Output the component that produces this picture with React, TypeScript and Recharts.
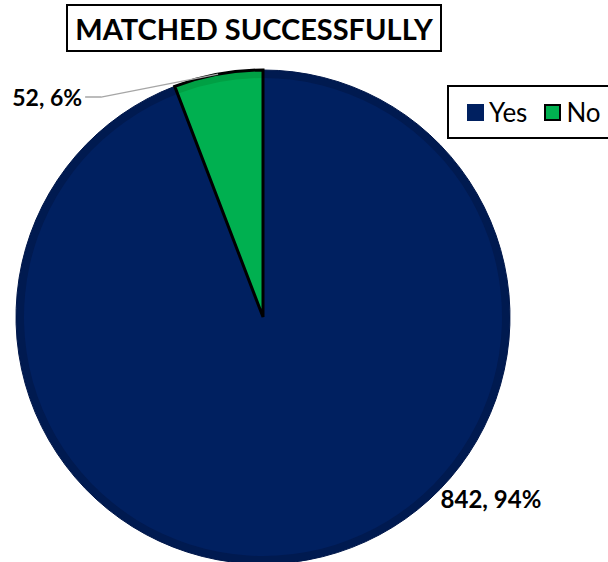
import React from "react";
import { PieChart, Pie, Cell, Legend } from "recharts";

const categories = ["Yes", "No"];
const counts = [842, 52];
const fills = ["#002060", "#00B050"];
const edgeFills = ["#001a50", "#00a044"];

const data = categories.map((name, i) => ({ name, value: counts[i] }));

const FONT = "Lato, 'Open Sans', sans-serif";
const RAD = Math.PI / 180;

const renderLabel = (p: any) => {
  const { cx, cy, midAngle, outerRadius, value, percent, index } = p;
  const text = `${value}, ${Math.round(percent * 100)}%`;
  if (index === 1) {
    const sx = cx + outerRadius * Math.cos(-midAngle * RAD);
    const sy = cy + outerRadius * Math.sin(-midAngle * RAD);
    const mx = sx - 117;
    const my = sy + 23;
    const ex = mx - 16;
    return (
      <g>
        <polyline
          points={`${sx},${sy} ${mx},${my} ${ex},${my}`}
          fill="none"
          stroke="#a6a6a6"
          strokeWidth={1.5}
        />
        <text
          x={ex - 3}
          y={my}
          textAnchor="end"
          dominantBaseline="central"
          fontFamily={FONT}
          fontWeight={700}
          fontSize={23}
          fill="#000"
        >
          {text}
        </text>
      </g>
    );
  }
  const x = cx + outerRadius * 0.923;
  const y = cy + outerRadius * 0.733;
  return (
    <text
      x={x}
      y={y}
      textAnchor="middle"
      dominantBaseline="central"
      fontFamily={FONT}
      fontWeight={700}
      fontSize={24}
      fill="#000"
    >
      {text}
    </text>
  );
};

const renderLegend = () => (
  <div
    style={{
      border: "2px solid #000",
      borderRight: "none",
      height: 54,
      width: 170,
      boxSizing: "border-box",
      display: "flex",
      alignItems: "center",
      paddingLeft: 18,
      fontFamily: FONT,
      fontSize: 26,
      color: "#000",
    }}
  >
    {categories.map((c, i) => (
      <span key={c} style={{ display: "flex", alignItems: "center", marginRight: 17 }}>
        <span
          style={{
            display: "inline-block",
            width: 17,
            height: 17,
            background: fills[i],
            border: i === 1 ? "2px solid #000" : "none",
            boxSizing: "border-box",
            marginRight: 5,
          }}
        />
        {c}
      </span>
    ))}
  </div>
);

export default function App() {
  return (
    <div
      style={{
        position: "absolute",
        left: 0,
        top: 0,
        width: 608,
        height: 562,
        overflow: "hidden",
        background: "#fff",
      }}
    >
      <PieChart width={608} height={562} margin={{ top: 0, right: 0, bottom: 0, left: 0 }}>
        <Pie
          data={data}
          dataKey="value"
          nameKey="name"
          cx={263}
          cy={317}
          outerRadius={247}
          startAngle={90}
          endAngle={-270}
          isAnimationActive={false}
          label={renderLabel}
          labelLine={false}
          stroke="none"
        >
          {data.map((d, i) => (
            <Cell key={d.name} fill={edgeFills[i]} stroke={i === 1 ? "#000" : "#00174a"} strokeWidth={1} />
          ))}
        </Pie>
        <Pie
          data={data}
          dataKey="value"
          cx={263}
          cy={317}
          outerRadius={239}
          startAngle={90}
          endAngle={-270}
          isAnimationActive={false}
          stroke="none"
          legendType="none"
        >
          {data.map((d, i) => (
            <Cell key={d.name} fill={fills[i]} stroke="none" />
          ))}
        </Pie>
        <Pie
          data={data}
          dataKey="value"
          cx={263}
          cy={317}
          outerRadius={247}
          startAngle={90}
          endAngle={-270}
          isAnimationActive={false}
          legendType="none"
        >
          {data.map((d, i) => (
            <Cell
              key={d.name}
              fill="none"
              stroke={i === 1 ? "#000" : "none"}
              strokeWidth={i === 1 ? 3 : 0}
            />
          ))}
        </Pie>
        <Legend
          content={renderLegend}
          wrapperStyle={{ position: "absolute", left: 447, top: 85, width: 170 }}
        />
      </PieChart>
      <div
        style={{
          position: "absolute",
          left: 66,
          top: 4,
          width: 376,
          height: 48,
          border: "2px solid #000",
          boxSizing: "border-box",
          display: "flex",
          alignItems: "center",
          justifyContent: "center",
          fontFamily: FONT,
          fontWeight: 700,
          fontSize: 29,
          color: "#000",
          background: "#fff",
        }}
      >
        MATCHED SUCCESSFULLY
      </div>
    </div>
  );
}
